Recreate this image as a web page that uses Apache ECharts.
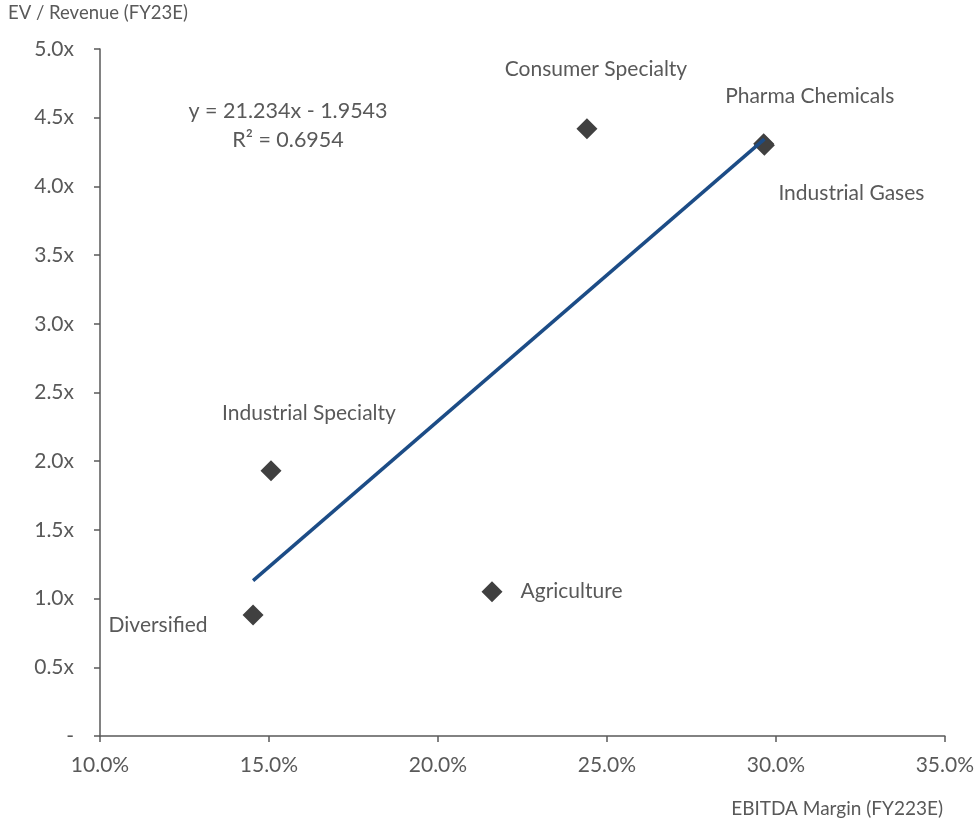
<!DOCTYPE html>
<html>
<head>
<meta charset="utf-8">
<script src="https://cdn.jsdelivr.net/npm/echarts@6/dist/echarts.min.js"></script>
<style>
html,body{margin:0;padding:0;background:#fff;}
#c{width:977px;height:822px;}
</style>
</head>
<body>
<div id="c"></div>
<script>
// Data
var names = ['Diversified', 'Industrial Specialty', 'Agriculture', 'Consumer Specialty', 'Pharma Chemicals', 'Industrial Gases'];
var ebitdaMargin = [0.1453, 0.1506, 0.2160, 0.2441, 0.2964, 0.2966];
var evRevenue = [0.88, 1.93, 1.05, 4.42, 4.31, 4.30];
var trendSlope = 21.234;
var trendIntercept = -1.9543;
var trendLabel = 'y = 21.234x - 1.9543';
var r2Label = 'R² = 0.6954';
var yTitle = 'EV / Revenue (FY23E)';
var xTitle = 'EBITDA Margin (FY223E)';

var labelStyles = {
  'Diversified': {position: 'left', distance: 35, offset: [0, 10]},
  'Industrial Specialty': {position: 'top', distance: 37, offset: [38, 0]},
  'Agriculture': {position: 'right', distance: 18, offset: [0, 0]},
  'Consumer Specialty': {position: 'top', distance: 38, offset: [9, 0]},
  'Pharma Chemicals': {position: 'top', distance: 27, offset: [46, 0]},
  'Industrial Gases': {position: 'bottom', distance: 27, offset: [87, 0]}
};

var font = 'Lato, "Noto Sans", sans-serif';
var textColor = '#595959';

var pts = names.map(function (n, i) {
  var ls = labelStyles[n];
  return {
    name: n,
    value: [ebitdaMargin[i], evRevenue[i]],
    label: {show: true, position: ls.position, distance: ls.distance, offset: ls.offset}
  };
});

var xMinData = Math.min.apply(null, ebitdaMargin);
var xMaxData = Math.max.apply(null, ebitdaMargin);
var trend = [
  [xMinData, trendSlope * xMinData + trendIntercept],
  [xMaxData, trendSlope * xMaxData + trendIntercept]
];

var chart = echarts.init(document.getElementById('c'), null, {renderer: 'canvas'});
chart.setOption({
  animation: false,
  backgroundColor: '#fff',
  textStyle: {fontFamily: font},
  grid: {left: 100, right: 32, top: 49, bottom: 86, containLabel: false},
  xAxis: {
    type: 'value', min: 0.10, max: 0.35, interval: 0.05,
    axisLine: {show: true, lineStyle: {color: '#595959', width: 1.5}},
    axisTick: {show: true, length: 6, lineStyle: {color: '#595959', width: 1.5}},
    splitLine: {show: false},
    axisLabel: {
      color: textColor, fontSize: 21, fontFamily: font, margin: 19,
      formatter: function (v) { return (v * 100).toFixed(1) + '%'; }
    }
  },
  yAxis: {
    type: 'value', min: 0, max: 5, interval: 0.5,
    axisLine: {show: true, lineStyle: {color: '#595959', width: 1.5}},
    axisTick: {show: true, length: 6, lineStyle: {color: '#595959', width: 1.5}},
    splitLine: {show: false},
    axisLabel: {
      color: textColor, fontSize: 21, fontFamily: font, margin: 26,
      formatter: function (v) { return v === 0 ? '-' : v.toFixed(1) + 'x'; }
    }
  },
  graphic: [
    {type: 'text', left: 8, top: 4, style: {text: yTitle, fill: textColor, font: '18.5px ' + font}},
    {type: 'text', right: 34, top: 799, style: {text: xTitle, fill: textColor, font: '19px ' + font}},
    {type: 'text', x: 288, y: 111, style: {text: trendLabel, fill: textColor, font: '21.5px ' + font, align: 'center', verticalAlign: 'middle'}},
    {type: 'text', x: 288, y: 140, style: {text: r2Label, fill: textColor, font: '21.5px ' + font, align: 'center', verticalAlign: 'middle'}}
  ],
  series: [
    {
      type: 'line', data: trend, symbol: 'none', silent: true,
      lineStyle: {color: '#1C4C86', width: 3.5}, z: 3
    },
    {
      type: 'scatter', data: pts, symbol: 'diamond', symbolSize: 21,
      itemStyle: {color: '#404040', opacity: 1}, z: 2,
      label: {
        color: textColor, fontSize: 21, fontFamily: font,
        formatter: function (p) { return p.name; }
      }
    }
  ]
});
</script>
</body>
</html>
